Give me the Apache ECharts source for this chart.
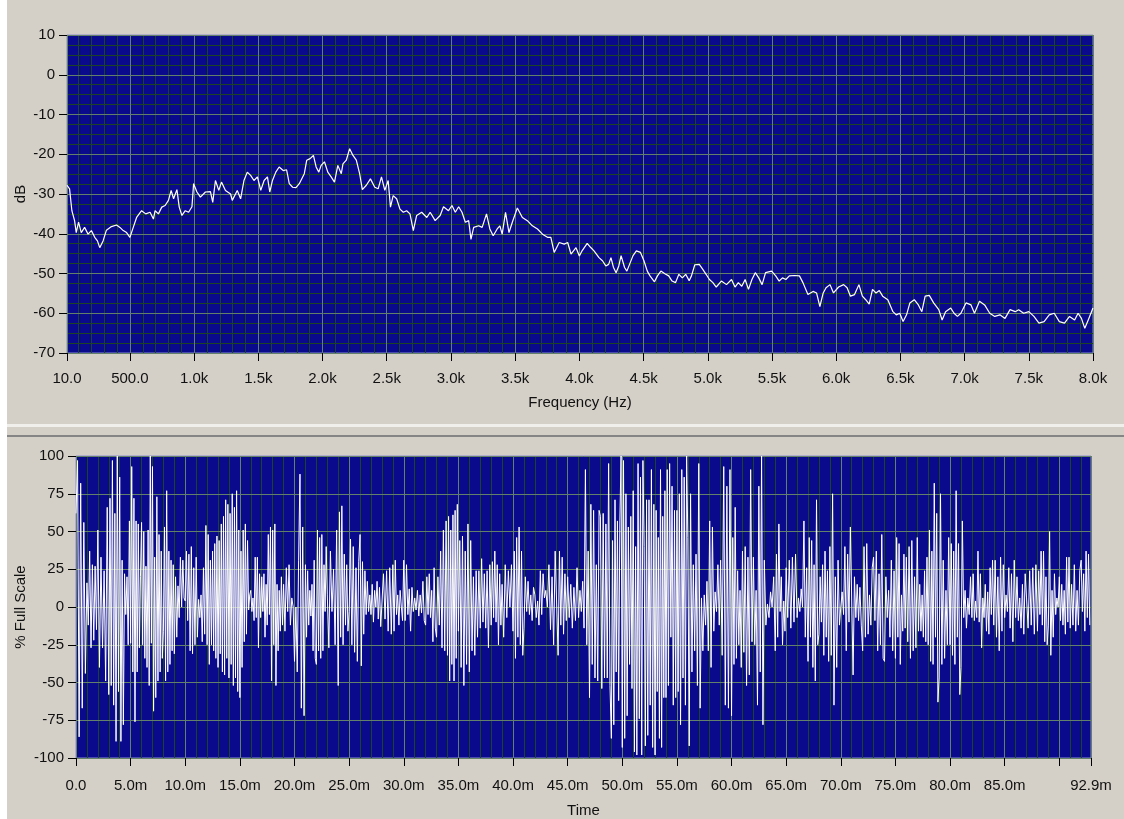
<!DOCTYPE html>
<html>
<head>
<meta charset="utf-8">
<script src="https://cdn.jsdelivr.net/npm/echarts@6/dist/echarts.min.js"></script>
<style>
html,body{margin:0;padding:0;background:#d4d0c8;overflow:hidden;}
#chart{width:1124px;height:819px;}
</style>
</head>
<body>
<div id="chart"></div>
<script>
// ---- Spectrum (top graph) ----
const specFreq = [10,30,48,69,82,100,121,147,174,200,226,247,265,291,317,356,396,422,448,474,500,526,552,591,623,657,683,696,722,748,774,800,821,840,866,884,905,931,957,983,996,1022,1049,1088,1127,1145,1166,1192,1213,1244,1284,1297,1336,1362,1388,1414,1440,1466,1493,1519,1545,1571,1589,1610,1636,1662,1694,1720,1741,1767,1793,1819,1858,1877,1903,1929,1950,1971,1989,2015,2041,2067,2093,2119,2146,2159,2185,2211,2237,2263,2289,2310,2341,2373,2407,2433,2459,2485,2511,2529,2550,2577,2603,2629,2655,2681,2707,2733,2772,2812,2838,2877,2916,2942,2981,3008,3034,3060,3086,3112,3138,3156,3177,3216,3243,3277,3303,3329,3360,3381,3399,3425,3452,3478,3517,3556,3595,3634,3674,3713,3752,3778,3804,3843,3882,3909,3935,3974,4000,
4021,4061,4087,4114,4153,4180,4206,4228,4246,4265,4286,4307,4325,4352,4370,4397,4418,4444,4476,4503,4529,4550,4585,4608,4635,4669,4696,4722,4749,4775,4802,4828,4855,4873,4899,4934,4960,4987,5013,5040,5066,5106,5146,5185,5212,5238,5265,5291,5317,5344,5370,5397,5423,5450,5497,5529,5556,5582,5608,5635,5675,5714,5741,5780,5820,5847,5873,5899,5921,5952,5979,6019,6058,6085,6111,6143,6177,6204,6230,6257,6283,6310,6336,6362,6402,6442,6468,6495,6521,6548,6574,6608,6640,6667,6693,6725,6759,6799,6825,6852,6892,6918,6944,6971,7011,7050,7077,7116,7156,7196,7235,7275,7315,7354,7394,7421,7460,7500,7540,7579,7619,7659,7698,7738,7778,7817,7857,7884,7910,7936,7963,8000];
const specDb = [-27.8,-28.7,-34.2,-36.7,-39.7,-37.1,-39.7,-38.4,-40.1,-39.2,-40.9,-41.8,-43.5,-41.8,-39.1,-38.2,-37.8,-38.4,-39.2,-39.7,-40.9,-38.4,-35.9,-34.2,-35.0,-34.6,-36.3,-34.2,-35.0,-33.3,-32.9,-31.6,-29.1,-31.2,-28.9,-33.3,-35.4,-34.2,-34.6,-33.2,-27.4,-29.5,-30.8,-29.5,-29.4,-32.1,-26.6,-29.1,-27.0,-29.1,-30.0,-31.6,-29.1,-31.2,-26.6,-24.5,-25.3,-26.6,-25.7,-29.1,-26.6,-25.7,-29.5,-26.6,-24.5,-23.2,-24.1,-23.9,-27.4,-28.3,-28.4,-27.4,-24.9,-21.5,-21.1,-20.3,-23.2,-24.5,-22.8,-21.9,-24.5,-25.7,-27.0,-22.8,-24.9,-22.4,-21.5,-18.6,-20.3,-21.5,-24.9,-28.9,-27.8,-26.2,-28.3,-28.7,-25.7,-29.1,-26.6,-33.3,-30.4,-31.2,-33.8,-34.6,-34.2,-35.0,-39.2,-35.4,-34.6,-35.9,-34.6,-36.7,-35.4,-33.2,-34.2,-32.9,-34.6,-33.2,-34.6,-37.1,-36.7,-41.4,-38.4,-38.0,-38.4,-35.0,-38.8,-40.5,-38.8,-38.0,-40.1,-34.6,-39.7,-37.1,-33.5,-35.9,-36.7,-38.0,-38.8,-40.1,-40.9,-40.9,-44.7,-42.2,-42.6,-42.2,-45.1,-43.5,-45.6,
-44.3,-42.4,-43.4,-44.3,-46.0,-46.8,-48.1,-47.7,-46.0,-48.4,-49.8,-48.1,-45.5,-48.5,-49.4,-47.2,-45.5,-44.3,-44.7,-46.8,-49.4,-50.6,-52.1,-50.6,-49.4,-50.1,-50.6,-51.9,-52.3,-50.2,-51.1,-50.2,-51.8,-50.6,-47.8,-47.7,-48.9,-50.2,-51.5,-52.3,-53.4,-51.9,-52.8,-51.5,-53.4,-52.3,-53.2,-51.5,-54.0,-51.5,-49.8,-51.1,-52.8,-49.8,-49.4,-50.6,-51.9,-51.1,-51.5,-50.6,-50.5,-50.6,-52.3,-55.3,-54.5,-54.9,-58.3,-54.9,-53.6,-52.8,-54.9,-53.4,-52.8,-53.6,-55.7,-55.3,-52.8,-55.7,-56.6,-57.7,-54.0,-54.9,-54.3,-55.7,-56.6,-59.6,-60.4,-60.0,-62.1,-60.4,-57.4,-56.6,-57.9,-59.6,-55.7,-55.5,-57.4,-59.1,-61.7,-59.6,-58.7,-60.0,-60.8,-60.0,-57.4,-57.9,-60.0,-57.0,-57.9,-60.0,-60.8,-60.4,-61.3,-59.1,-59.6,-59.1,-60.0,-59.6,-60.8,-62.5,-62.1,-60.4,-60.0,-62.1,-62.5,-60.8,-61.7,-60.0,-61.3,-63.8,-61.7,-58.7];

// ---- Time signal (bottom graph): values read per 1 ms slot ----
const waveEndMs = 92.9;
const waveByMs = [
 [62,97,-86,82,-67,56,-44],
 [16,-12,37,-27,28,-22,27,-15],
 [51,-40,33,-27,24,-49,66],
 [-58,72,-52,97,-65,62,-89,100,-56],
 [86,-89,31,-78,22,-5,20,-25,57],
 [-24,93,-43,72,-76,57,-43,55,-27,20],
 [56,-25,50,-34,27,-40,51,-52,100,-24],
 [93,-69,33,-60,73,-49,48,-43,37,-34],
 [-16,53,-49,77,-43,37,-38,31,-29,28],
 [-31,20,-20,14,-7,33,0,31,6],
 [4,37,-9,35,-29,40,-31,26,-25],
 [33,-20,5,-7,8,-23,26,-18,54],
 [-25,48,-38,31,-25,37,-29,42,-34,47],
 [-40,44,-31,55,-43,60,-45,71,-34,68],
 [-47,62,-38,75,-52,66,-47,77,-56,51],
 [-60,37,-40,51,-23,55,-18,44,-2,8],
 [11,-3,6,-9,33,-7,33,-27,22,-7],
 [20,-3,22,-20,15,-12,48,-5,53,-49],
 [51,-25,55,-52,15,-29,11,-16,20,-12],
 [15,-16,26,-3,28,-12,6,0],
 [-36,0,-43,31,88,-67,53,-72],
 [28,-20,24,-12,11,-6,15,-29,31,-34],
 [-38,51,-29,46,-34,48,-29,28,-3,40],
 [8,-27,37,-3,25,-25,51],
 [-52,63,-20,67,-25,35,-12,28,-16],
 [-3,45,-25,40,-30,26,-36,30],
 [48,-39,30,-18,24,-5,17,-3,8],
 [-5,15,-10,11,0,17,-8,13,-13],
 [-12,22,-8,24,-16,26,-18],
 [28,-16,31,-5,8,-12,11,0,-9],
 [31,-9,28,-5,12,-16,13,-3],
 [6,-2,11,-6,8,-4,17,-9],
 [-12,20,-5,22,-7,11,-23,26,-14],
 [-20,20,-12,37,-27,51,-29,57],
 [-32,60,-49,51,-38,61,-49,64,-34,68],
 [-16,44,-40,47,-52,37,-38,55],
 [-43,44,-29,20,-32,24,-20,24],
 [-14,32,-10,22,-14,24,-27,28],
 [-12,30,-7,37,-10,28,-25,22,-12],
 [15,-20,28,-7,24,0,28],
 [-16,37,-34,46,-20,53,-25,37,-32],
 [-14,20,-3,17,-5,8,-9,13],
 [8,-7,4,-12,24,-5,22,6],
 [11,0,28,-15,20,-25,37],
 [37,-32,37,-12,33,-18,22,-9],
 [20,-7,15,-14,13,-9,26],
 [-7,11,-3,17,-14,91,-25,37],
 [-60,68,-38,64,-47,28,-49,64],
 [60,-54,62,-47,55,-47,95,-52],
 [-87,44,-78,71,-43,57,-62,57,100],
 [-93,97,-87,75,-72,53,-38,60,-54],
 [77,-96,40,-98,95,-74,86,-98,97],
 [40,-92,71,-85,71,-65,91,-93,68],
 [-98,64,-56,46,-87,91,-93,60,-60,77],
 [-60,91,-52,95,-20,80,-65,64,-60],
 [64,-56,75,-78,91,-47,86,-65,100],
 [46,-92,75,-43,28,-29,35,-52],
 [95,-67,6,-29,8,-12,17,-29],
 [57,-40,53,-16,10,-3,28,-12],
 [31,-32,93,-65,80,-67,91],
 [-72,46,-38,66,-34,24,-25,11,-40],
 [37,-30,40,-52,33,-45,91,-23],
 [33,-25,11,-65,80,-43,100,-78],
 [31,-12,2,-7,10,0,20],
 [-29,35,-20,55,-3,20,-25,4,-16],
 [26,-7,31,-14,33,-10,35],
 [-7,6,-3,12,0,57,-20,26],
 [-36,46,-20,44,-40,28,-49,71,-25],
 [-18,20,-10,28,-32,37,-20,24,-36],
 [40,-32,75,-65,20,-40,31,-12],
 [0,10,-5,40,-29,35,-10,53],
 [53,-45,20,-7,15,-9,13,-12],
 [-29,40,-20,42,-18,8,-12,26],
 [33,-9,37,-29,22,-25,48,-34],
 [-36,20,-7,11,-20,31,-29,24],
 [-34,46,-20,42,-38,8,-16,35,-14],
 [33,-23,40,-34,44,-29,20,-27],
 [46,-16,15,-16,8,-20,24,-23,33],
 [-25,51,-36,37,-38,82,-20,62,-63],
 [-47,75,-38,31,-34,11,-25,46],
 [-25,42,-32,37,-38,77,-20,42,-58],
 [-40,57,-7,11,-14,6,-5,20],
 [-7,22,-9,4,-7,37,-10,22,-27],
 [6,-7,15,-16,10,-18,26,-5,31],
 [-12,31,-20,20,-29,33,-16,28],
 [-7,8,-3,26,-14,22,-23,31],
 [-7,20,-9,6,-14,15,-18,22],
 [6,-14,24,-12,26,-18,28],
 [-16,24,-5,37,-12,37,-23,20,-25],
 [-12,50,-32,11,-20,22,-5,6,0],
 [20,-9,15,-12,11,-18,33,-10,33],
 [-14,15,-12,28,-16,11,-12,24],
 [31,-3,22,-16,37,-7,35,-12]
];

// ---- Axis tick settings ----
const dbTicks = {min: -70, max: 10, step: 10};
const pctTicks = {min: -100, max: 100, step: 25};
const freqRange = {min: 10, max: 8000};

// build series data
const specData = [];
for (let i = 0; i < Math.min(specFreq.length, specDb.length); i++) specData.push([specFreq[i], specDb[i]]);
const waveData = [];
waveByMs.forEach((vals, i) => {
  const t0 = i, t1 = Math.min(i + 1, waveEndMs);
  vals.forEach((v, j) => waveData.push([t0 + j * (t1 - t0) / vals.length, v]));
});

const FONT = '"Liberation Sans", Arial, sans-serif';
const FS = 15;
const TXT = '#111';
const MAJOR = '#62806a';
const MINOR = '#1c4424';
const PLOTBG = '#0a0a8c';

function hiddenAxisParts() {
  return {axisLine: {show: false, onZero: false}, axisTick: {show: false}, axisLabel: {show: false}};
}

const chart = echarts.init(document.getElementById('chart'), null, {renderer: 'canvas'});
chart.setOption({
  animation: false,
  backgroundColor: '#d4d0c8',
  textStyle: {fontFamily: FONT},
  graphic: [
    {type: 'rect', shape: {x: 0, y: 0, width: 7, height: 819}, style: {fill: '#ffffff'}, silent: true},
    {type: 'rect', shape: {x: 7, y: 424, width: 1117, height: 3}, style: {fill: '#f1efeb'}, silent: true},
    {type: 'rect', shape: {x: 7, y: 435, width: 1117, height: 2}, style: {fill: '#858585'}, silent: true}
  ],
  grid: [
    {left: 67, right: 31, top: 35, height: 318, show: true, backgroundColor: PLOTBG, borderColor: '#8c8cd0', borderWidth: 1},
    {left: 76, right: 33, top: 456, height: 303, show: true, backgroundColor: PLOTBG, borderColor: '#8c8cd0', borderWidth: 1}
  ],
  xAxis: [
    { // top main
      type: 'value', gridIndex: 0, min: freqRange.min, max: freqRange.max, splitNumber: 16, z: 1,
      name: 'Frequency (Hz)', nameLocation: 'middle', nameGap: 42, nameMoveOverlap: false,
      nameTextStyle: {color: TXT, fontFamily: FONT, fontSize: FS},
      axisLine: {show: false, onZero: false},
      axisTick: {show: true, inside: false, length: 8, lineStyle: {color: '#000', width: 1}},
      axisLabel: {color: TXT, fontFamily: FONT, fontSize: FS, margin: 18,
        formatter: v => v < 1000 ? v.toFixed(1) : (v / 1000).toFixed(1) + 'k'},
      splitLine: {show: true, lineStyle: {color: MAJOR, width: 1}}
    },
    Object.assign({ // top minor grid
      type: 'value', gridIndex: 0, min: freqRange.min, max: freqRange.max, splitNumber: 80, z: 0,
      splitLine: {show: true, lineStyle: {color: MINOR, width: 1}}
    }, hiddenAxisParts()),
    { // bottom main
      type: 'value', gridIndex: 1, min: 0, max: waveEndMs, interval: 5, z: 1,
      name: 'Time', nameLocation: 'middle', nameGap: 45, nameMoveOverlap: false,
      nameTextStyle: {color: TXT, fontFamily: FONT, fontSize: FS},
      axisLine: {show: false, onZero: false},
      axisTick: {show: true, inside: false, length: 8, lineStyle: {color: '#000', width: 1}},
      axisLabel: {color: TXT, fontFamily: FONT, fontSize: FS, margin: 20,
        formatter: v => v === 0 ? '0.0' : (Math.abs(v - 90) < 1e-6 ? '' : v.toFixed(1) + 'm')},
      splitLine: {show: true, lineStyle: {color: MAJOR, width: 1}}
    },
    Object.assign({ // bottom minor grid
      type: 'value', gridIndex: 1, min: 0, max: waveEndMs, interval: 1, z: 0,
      splitLine: {show: true, lineStyle: {color: MINOR, width: 1}}
    }, hiddenAxisParts())
  ],
  yAxis: [
    {
      type: 'value', gridIndex: 0, min: dbTicks.min, max: dbTicks.max, interval: dbTicks.step, z: 1,
      name: 'dB', nameLocation: 'middle', nameGap: 39, nameRotate: 90, nameMoveOverlap: false,
      nameTextStyle: {color: TXT, fontFamily: FONT, fontSize: FS},
      axisLine: {show: false, onZero: false},
      axisTick: {show: true, inside: false, length: 8, lineStyle: {color: '#000', width: 1}},
      axisLabel: {color: TXT, fontFamily: FONT, fontSize: FS, margin: 12},
      splitLine: {show: true, lineStyle: {color: MAJOR, width: 1}},
      minorTick: {show: false, splitNumber: 4},
      minorSplitLine: {show: true, lineStyle: {color: MINOR, width: 1}}
    },
    {
      type: 'value', gridIndex: 1, min: pctTicks.min, max: pctTicks.max, interval: pctTicks.step, z: 1,
      name: '% Full Scale', nameLocation: 'middle', nameGap: 48, nameRotate: 90, nameMoveOverlap: false,
      nameTextStyle: {color: TXT, fontFamily: FONT, fontSize: FS},
      axisLine: {show: false, onZero: false},
      axisTick: {show: true, inside: false, length: 8, lineStyle: {color: '#000', width: 1}},
      axisLabel: {color: TXT, fontFamily: FONT, fontSize: FS, margin: 12},
      splitLine: {show: true, lineStyle: {color: MAJOR, width: 1}}
    }
  ],
  series: [
    {type: 'line', xAxisIndex: 0, yAxisIndex: 0, data: specData, showSymbol: false, symbol: 'none',
     lineStyle: {color: '#ffffff', width: 1.2}, z: 5, silent: true},
    {type: 'line', xAxisIndex: 2, yAxisIndex: 1, data: waveData, showSymbol: false, symbol: 'none',
     lineStyle: {color: '#ffffff', width: 1}, z: 5, silent: true}
  ]
});
</script>
</body>
</html>
